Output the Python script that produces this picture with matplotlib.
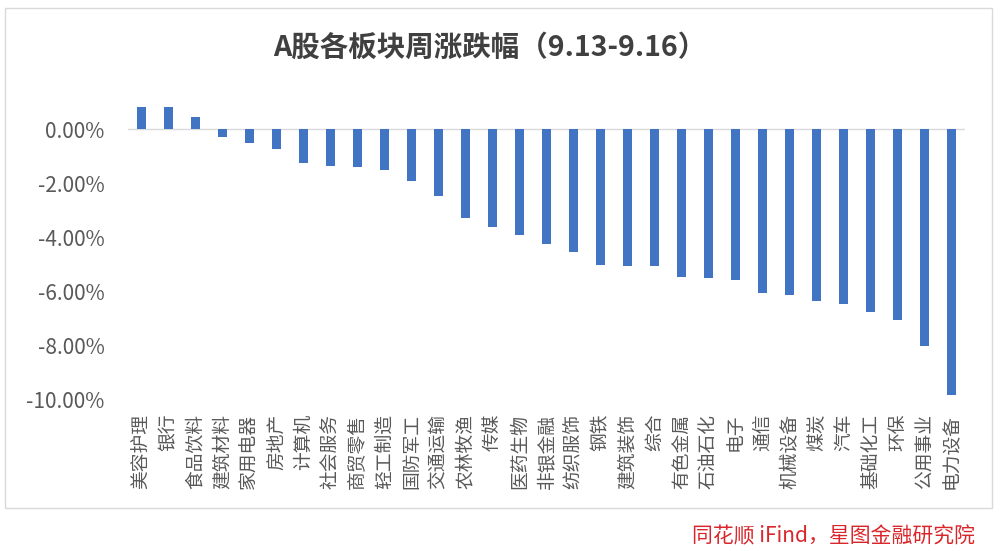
import matplotlib.pyplot as plt
from matplotlib.patches import Rectangle

plt.rcParams['font.family'] = ['Noto Sans CJK SC', 'DejaVu Sans']

# 申万一级行业周涨跌幅 (%)
sectors = ['美容护理', '银行', '食品饮料', '建筑材料', '家用电器', '房地产', '计算机',
           '社会服务', '商贸零售', '轻工制造', '国防军工', '交通运输', '农林牧渔', '传媒',
           '医药生物', '非银金融', '纺织服饰', '钢铁', '建筑装饰', '综合', '有色金属',
           '石油石化', '电子', '通信', '机械设备', '煤炭', '汽车', '基础化工', '环保',
           '公用事业', '电力设备']
changes = [0.82, 0.82, 0.44, -0.30, -0.52, -0.74, -1.24,
           -1.36, -1.41, -1.52, -1.91, -2.46, -3.28, -3.62,
           -3.90, -4.23, -4.52, -5.00, -5.07, -5.07, -5.46,
           -5.51, -5.56, -6.05, -6.12, -6.34, -6.45, -6.76, -7.06,
           -8.00, -9.82]
yticks = [0, -2, -4, -6, -8, -10]

fig = plt.figure(figsize=(10, 5.51), dpi=100)
fig.patch.set_facecolor('white')

# chart frame
fig.patches.append(Rectangle((0.005, 1 - 508 / 551), 0.987, (508 - 8) / 551,
                             transform=fig.transFigure, fill=False,
                             edgecolor='#d9d9d9', linewidth=1.0))

ax = fig.add_axes([0.128, 1 - 400 / 551, 0.965 - 0.128, (400 - 102) / 551])
x = range(len(sectors))
ax.bar(x, changes, width=0.32, color='#4174C2', zorder=3)
ax.axhline(0, color='#d9d9d9', linewidth=1.0, zorder=2)

ax.set_xlim(-0.5, len(sectors) - 0.5)
ax.set_ylim(-10, 1)
ax.set_yticks(yticks)
ax.set_yticklabels([f'{v:.2f}%' for v in yticks])
ax.set_xticks(list(x))
ax.set_xticklabels(sectors, rotation=90)

ax.tick_params(axis='y', length=0, pad=17, labelsize=15, labelcolor='#595959')
ax.tick_params(axis='x', length=0, pad=10, labelsize=13.5, labelcolor='#595959')
for s in ax.spines.values():
    s.set_visible(False)

fig.text(0.49, 1 - 48 / 551, 'A股各板块周涨跌幅（9.13-9.16）', ha='center', va='center',
         fontsize=20.5, fontweight='bold', color='#404040')
fig.text(0.975, 1 - 536 / 551, '同花顺 iFind，星图金融研究院', ha='right', va='center',
         fontsize=15, style='italic', color='#d9262b')

fig.savefig('out.png', dpi=100)
